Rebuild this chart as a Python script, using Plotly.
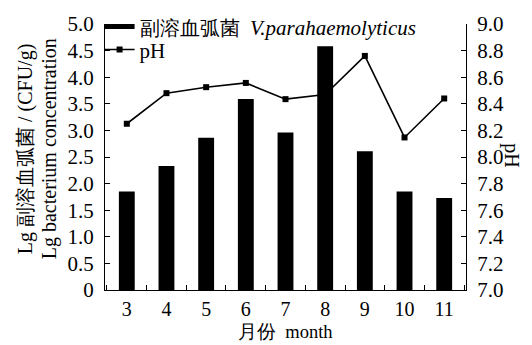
import plotly.graph_objects as go

# Monthly Vibrio parahaemolyticus counts (Lg CFU/g) and water pH
months = ["3", "4", "5", "6", "7", "8", "9", "10", "11"]
bacteria_lg = [1.85, 2.33, 2.86, 3.59, 2.96, 4.58, 2.61, 1.85, 1.73]
ph_values = [8.25, 8.48, 8.525, 8.557, 8.435, 8.47, 8.76, 8.147, 8.44]

left_ticks = [0, 0.5, 1.0, 1.5, 2.0, 2.5, 3.0, 3.5, 4.0, 4.5, 5.0]
left_ticktext = ["0", "0.5", "1.0", "1.5", "2.0", "2.5", "3.0", "3.5", "4.0", "4.5", "5.0"]
right_ticks = [7.0, 7.2, 7.4, 7.6, 7.8, 8.0, 8.2, 8.4, 8.6, 8.8, 9.0]
right_ticktext = ["7.0", "7.2", "7.4", "7.6", "7.8", "8.0", "8.2", "8.4", "8.6", "8.8", "9.0"]

FONT = "Liberation Serif"
bar_name = ('<span style="font-size:20px">副溶血弧菌</span>  '
            '<i>V.parahaemolyticus</i>')

fig = go.Figure()

# legend entry for the bars, drawn as a thick black stroke
fig.add_trace(go.Scatter(
    x=[None], y=[None], mode="lines", name=bar_name,
    line=dict(color="black", width=5), yaxis="y2", showlegend=True,
    legend="legend",
))

# pH line on the primary (right-hand) axis so the bars sit on top of it
fig.add_trace(go.Scatter(
    x=months, y=ph_values, mode="lines+markers", name="pH",
    line=dict(color="black", width=1.6),
    marker=dict(symbol="square", size=6, color="black"),
    yaxis="y", legend="legend2",
))

# bacterial concentration bars on the left axis
fig.add_trace(go.Bar(
    x=months, y=bacteria_lg, name=bar_name, width=0.4,
    marker=dict(color="black", line=dict(width=0)),
    yaxis="y2", showlegend=False,
))

axis_common = dict(
    showgrid=False, zeroline=False, showline=True, linecolor="black",
    linewidth=1, ticks="inside", ticklen=5, tickcolor="black", tickwidth=1,
    automargin=False,
)
tick_font = dict(family=FONT, size=21, color="black")

legend_common = dict(
    x=-0.015, xanchor="left", yanchor="middle",
    bgcolor="rgba(0,0,0,0)", borderwidth=0,
    font=dict(family=FONT, size=21, color="black"),
)

fig.update_layout(
    width=532, height=345,
    margin=dict(l=104.5, r=65.5, t=24, b=54.5, autoexpand=False),
    paper_bgcolor="white", plot_bgcolor="white",
    font=dict(family=FONT, color="black"),
    xaxis=dict(
        type="category", tickson="boundaries", ticklabelstandoff=1,
        tickfont=dict(family=FONT, size=20, color="black"), **axis_common,
    ),
    yaxis=dict(
        side="right", range=[7.0, 9.0], tickvals=right_ticks,
        ticktext=right_ticktext, ticklabelstandoff=6, tickfont=tick_font,
        **axis_common,
    ),
    yaxis2=dict(
        side="left", overlaying="y", range=[0, 5.0], tickvals=left_ticks,
        ticktext=left_ticktext, ticklabelstandoff=6, tickfont=tick_font,
        **axis_common,
    ),
    legend=dict(y=0.989, **legend_common),
    legend2=dict(y=0.903, **legend_common),
    showlegend=True,
    annotations=[
        dict(text="Lg 副溶血弧菌 / (CFU/g)", xref="paper", yref="paper",
             x=0, y=0.531, xshift=25 - 104.5, textangle=-90,
             xanchor="center", yanchor="middle", showarrow=False,
             font=dict(family=FONT, size=20, color="black")),
        dict(text="Lg bacterium concentration", xref="paper", yref="paper",
             x=0, y=0.531, xshift=49 - 104.5, textangle=-90,
             xanchor="center", yanchor="middle", showarrow=False,
             font=dict(family=FONT, size=20, color="black")),
        dict(text="pH", xref="paper", yref="paper",
             x=1, y=0.508, xshift=512 - 466.5, textangle=90,
             xanchor="center", yanchor="middle", showarrow=False,
             font=dict(family=FONT, size=20, color="black")),
        dict(text="月份  month", xref="paper", yref="paper",
             x=0.5, y=0, yshift=-42, xanchor="center", yanchor="middle",
             showarrow=False, font=dict(family=FONT, size=18.5, color="black")),
    ],
)

fig.write_html("out.html")
